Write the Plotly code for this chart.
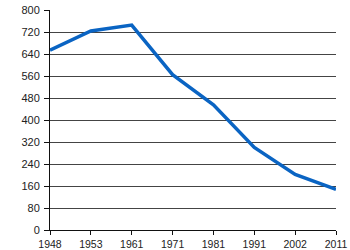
import plotly.graph_objects as go

years = ["1948", "1953", "1961", "1971", "1981", "1991", "2002", "2011"]
values = [654, 724, 745, 565, 455, 300, 202, 148]
y_ticks = [0, 80, 160, 240, 320, 400, 480, 560, 640, 720, 800]

fig = go.Figure()
fig.add_trace(go.Scatter(
    x=years, y=values, mode="lines",
    line=dict(color="#0A64C3", width=3.5),
    hoverinfo="skip",
))

fig.update_layout(
    width=350, height=250,
    margin=dict(l=50, r=14, t=10, b=20, autoexpand=False),
    paper_bgcolor="white", plot_bgcolor="white",
    showlegend=False,
    font=dict(family="Liberation Sans, Arial, sans-serif", size=10, color="#222"),
    xaxis=dict(
        type="category", range=[0, 7], automargin=False,
        showgrid=False, showline=True, linecolor="#111", linewidth=1,
        ticks="outside", ticklen=4, tickcolor="#111",
        tickfont=dict(size=10.5),
        zeroline=False,
    ),
    yaxis=dict(
        range=[0, 800], tickvals=y_ticks, automargin=False,
        showgrid=True, gridcolor="#444", gridwidth=1,
        showline=True, linecolor="#111", linewidth=1,
        ticks="outside", ticklen=5, tickcolor="#111",
        tickfont=dict(size=11), ticklabelstandoff=2,
        zeroline=False,
    ),
)

fig.write_html("out.html")
